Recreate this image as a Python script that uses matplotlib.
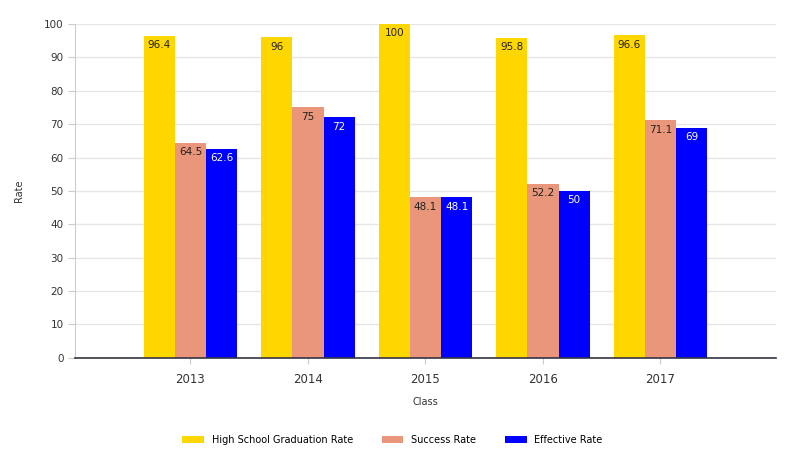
import matplotlib.pyplot as plt
import numpy as np

# Dane wykresu
years = ["2013", "2014", "2015", "2016", "2017"]
graduation = [96.4, 96, 100, 95.8, 96.6]
success = [64.5, 75, 48.1, 52.2, 71.1]
effective = [62.6, 72, 48.1, 50, 69]
series_names = ["High School Graduation Rate", "Success Rate", "Effective Rate"]
colors = ["#FFD700", "#E9967A", "#0000FF"]
text_colors = ["#222222", "#222222", "white"]

fig = plt.figure(figsize=(7.85, 4.54), dpi=100)
ax = fig.add_axes([0.096, 0.212, 0.892, 0.735])

x = np.arange(len(years))
width = 0.265
for i, (vals, name) in enumerate(zip([graduation, success, effective], series_names)):
    pos = x + (i - 1) * width
    ax.bar(pos, vals, width, color=colors[i], label=name, zorder=2)
    for px, v in zip(pos, vals):
        ax.text(px, v - 1.3, f"{v:g}", ha="center", va="top", fontsize=7.5,
                color=text_colors[i], zorder=3)

ax.set_xlim(-0.98, 4.98)
ax.set_ylim(0, 100)
ax.set_yticks(range(0, 101, 10))
ax.set_xticks(x)
ax.set_xticklabels(years, fontsize=8.5, color="#333333")
ax.tick_params(axis="y", labelsize=7.5, colors="#333333", length=5, color="#cccccc")
ax.tick_params(axis="x", length=4, color="#cccccc", pad=7)
ax.grid(axis="y", color="#e6e6e6", linewidth=1, zorder=0)
for s in ["top", "right"]:
    ax.spines[s].set_visible(False)
ax.spines["left"].set_color("#cccccc")
ax.spines["bottom"].set_color("#333344")
ax.spines["bottom"].set_linewidth(1.2)

ax.set_xlabel("Class", fontsize=7, color="#333333", labelpad=8)
ax.set_ylabel("Rate", fontsize=7, color="#333333", labelpad=14)

fig.legend(loc="lower center", ncol=3, frameon=False, fontsize=7,
           bbox_to_anchor=(0.5, 0.0), handlelength=2.2, columnspacing=3)

plt.savefig("out.png")
